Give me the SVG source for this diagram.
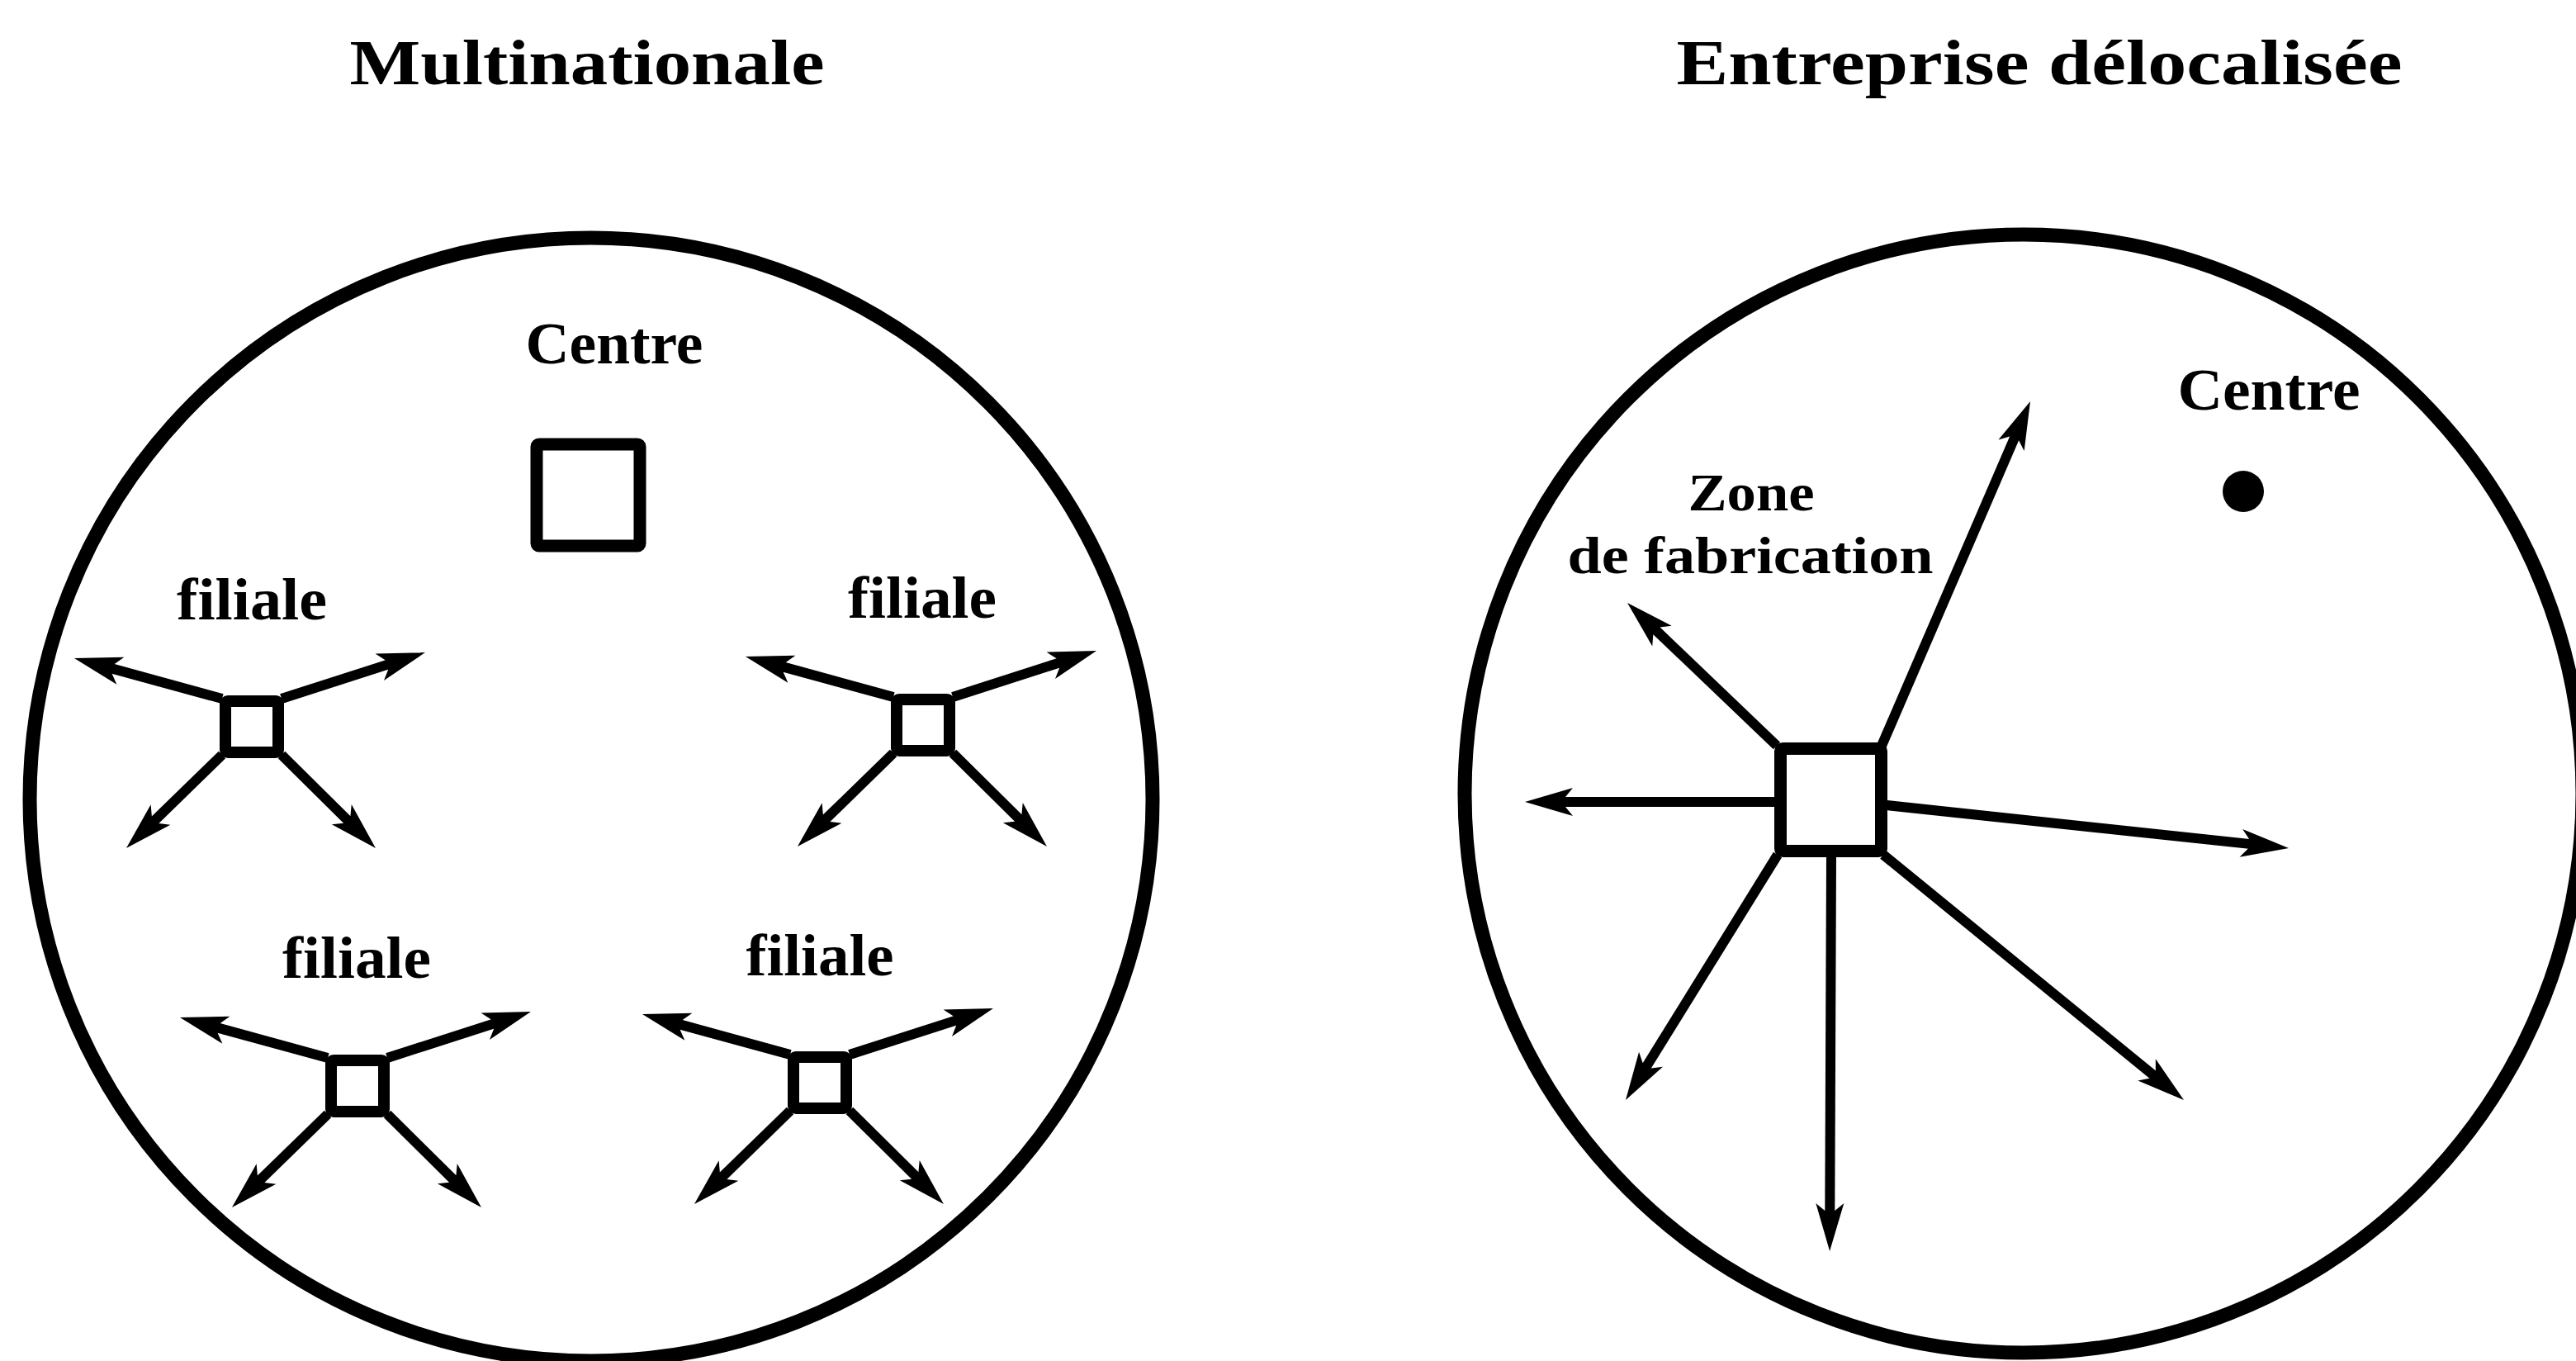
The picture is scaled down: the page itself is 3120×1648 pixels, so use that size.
<svg xmlns="http://www.w3.org/2000/svg" width="3120" height="1648" viewBox="0 0 3120 1648">
<style>
.t{font-family:"Liberation Serif","Times New Roman",serif;font-weight:bold;fill:#000;text-anchor:middle}
.ring{fill:none;stroke:#000;stroke-width:17}
.box{fill:#fff;stroke:#000;stroke-width:15}
.sq{fill:#fff;stroke:#000;stroke-width:14}
.ar{stroke:#000;stroke-width:12;fill:none;marker-end:url(#head)}
</style>
<defs>
<marker id="head" markerUnits="userSpaceOnUse" markerWidth="80" markerHeight="80" refX="0" refY="0" orient="auto" overflow="visible">
<path d="M46,0 L-12,-17 L-3,-6 L-3,6 L-12,17 Z" fill="#000"/>
</marker>
</defs>
<rect width="3120" height="1648" fill="#fff"/>

<g id="title-left"><text class="t" x="711" y="102" font-size="78" textLength="575" lengthAdjust="spacingAndGlyphs">Multinationale</text></g>
<g id="title-right"><text class="t" x="2470" y="102" font-size="78" textLength="879" lengthAdjust="spacingAndGlyphs">Entreprise délocalisée</text></g>

<g id="circle-multinationale"><circle class="ring" cx="716" cy="968" r="680"/></g>
<g id="circle-delocalisee"><circle class="ring" cx="2451" cy="961" r="677"/></g>

<g id="centre-left">
<text class="t" x="744" y="440" font-size="72" textLength="215" lengthAdjust="spacingAndGlyphs">Centre</text>
<rect class="box" x="650" y="538" width="125" height="123" rx="3"/>
</g>

<g id="filiale-1">
<text class="t" x="305" y="750" font-size="72" textLength="182" lengthAdjust="spacingAndGlyphs">filiale</text>
<rect class="sq" x="273" y="849" width="64" height="62" rx="3"/>
</g>
<g id="filiale-2">
<text class="t" x="1117" y="748" font-size="72" textLength="180" lengthAdjust="spacingAndGlyphs">filiale</text>
<rect class="sq" x="1086" y="847" width="64" height="62" rx="3"/>
</g>
<g id="filiale-3">
<text class="t" x="432" y="1184" font-size="72" textLength="180" lengthAdjust="spacingAndGlyphs">filiale</text>
<rect class="sq" x="401" y="1284" width="64" height="62" rx="3"/>
</g>
<g id="filiale-4">
<text class="t" x="993" y="1181" font-size="72" textLength="179" lengthAdjust="spacingAndGlyphs">filiale</text>
<rect class="sq" x="961" y="1280" width="64" height="62" rx="3"/>
</g>

<g id="zone-fabrication">
<text class="t" x="2121" y="618" font-size="64" textLength="153" lengthAdjust="spacingAndGlyphs">Zone</text>
<text class="t" x="2120" y="694" font-size="64" textLength="443" lengthAdjust="spacingAndGlyphs">de fabrication</text>
<rect class="box" x="2156.5" y="906.5" width="122" height="124" rx="3"/>
</g>

<g id="centre-right">
<text class="t" x="2748" y="496" font-size="72" textLength="221" lengthAdjust="spacingAndGlyphs">Centre</text>
<circle cx="2717" cy="595" r="25" fill="#000"/>
</g>

<g id="connectors">
<line class="ar" x1="269" y1="846" x2="134.3" y2="809.1"/>
<line class="ar" x1="341" y1="846" x2="471.2" y2="804.1"/>
<line class="ar" x1="269" y1="914" x2="185.9" y2="994.9"/>
<line class="ar" x1="341" y1="914" x2="422.3" y2="994.6"/>

<line class="ar" x1="1082" y1="844" x2="947.3" y2="807.1"/>
<line class="ar" x1="1154" y1="844" x2="1284.2" y2="802.1"/>
<line class="ar" x1="1082" y1="912" x2="998.9" y2="992.9"/>
<line class="ar" x1="1154" y1="912" x2="1235.3" y2="992.6"/>

<line class="ar" x1="397" y1="1281" x2="262.3" y2="1244.1"/>
<line class="ar" x1="469" y1="1281" x2="599.2" y2="1239.1"/>
<line class="ar" x1="397" y1="1349" x2="313.9" y2="1429.9"/>
<line class="ar" x1="469" y1="1349" x2="550.3" y2="1429.6"/>

<line class="ar" x1="957" y1="1277" x2="822.3" y2="1240.1"/>
<line class="ar" x1="1029" y1="1277" x2="1159.2" y2="1235.1"/>
<line class="ar" x1="957" y1="1345" x2="873.9" y2="1425.9"/>
<line class="ar" x1="1029" y1="1345" x2="1110.3" y2="1425.6"/>

<line class="ar" x1="2279" y1="903" x2="2440.8" y2="528.2"/>
<line class="ar" x1="2152" y1="903" x2="2004.3" y2="761.8"/>
<line class="ar" x1="2150" y1="971" x2="1893" y2="971"/>
<line class="ar" x1="2285" y1="975" x2="2726.3" y2="1022.1"/>
<line class="ar" x1="2153" y1="1035" x2="1993.2" y2="1292.9"/>
<line class="ar" x1="2218" y1="1038" x2="2216.3" y2="1469"/>
<line class="ar" x1="2281" y1="1035" x2="2609.4" y2="1302.9"/>
</g>
</svg>
